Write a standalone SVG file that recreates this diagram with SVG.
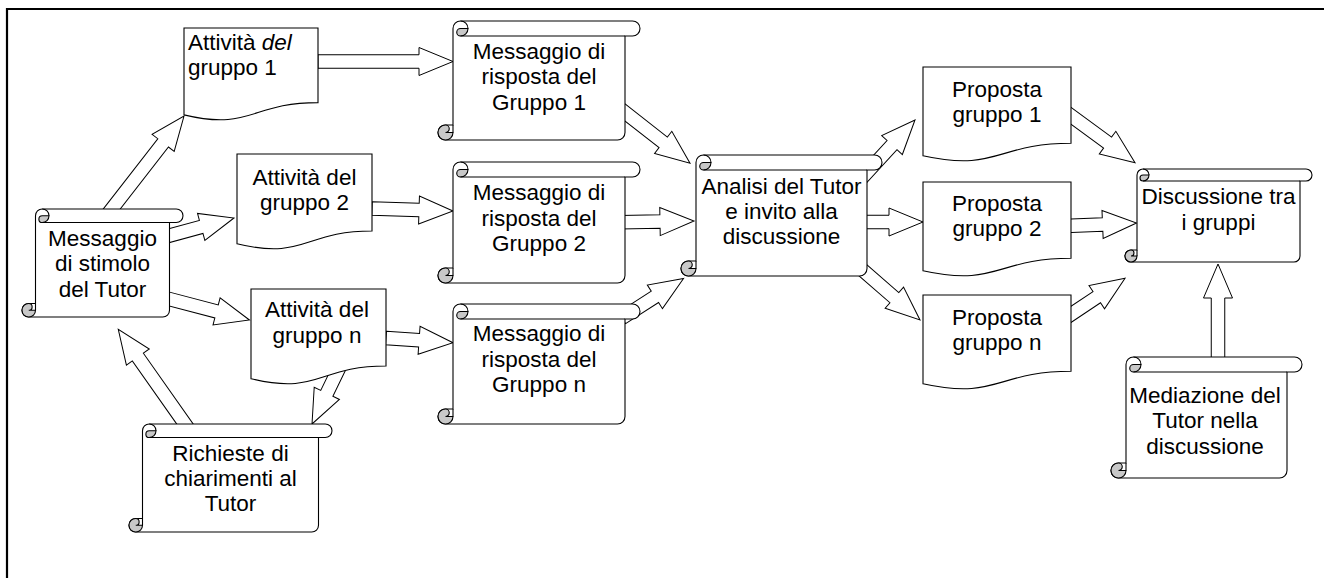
<svg xmlns="http://www.w3.org/2000/svg" width="1324" height="578" viewBox="0 0 1324 578">
<style>
.frame{fill:none;stroke:#000;stroke-width:2.2}
.ar{fill:#fff;stroke:#000;stroke-width:1}
.body{fill:#fff;stroke:#000;stroke-width:1.1}
.curl{fill:#c8c8c8;stroke:#000;stroke-width:1.1}
.ln{fill:none;stroke:#000;stroke-width:1.1}
text{font-family:"Liberation Sans",Arial,sans-serif;font-size:22.5px;fill:#000}
.c{text-anchor:middle}
</style>
<rect width="1324" height="578" fill="#fff"/>
<path class="frame" d="M7,580 V9 H1326"/>
<g id="connectors">
<polygon class="ar" transform="translate(318,61.5)" points="0,-6.75 101,-6.75 101,-14 135,0 101,14 101,6.75 0,6.75"/>
<polygon class="ar" transform="translate(372,208.5) rotate(1.77)" points="0,-6.75 47.04,-6.75 47.04,-14 81.04,0 47.04,14 47.04,6.75 0,6.75"/>
<polygon class="ar" transform="translate(386,338) rotate(4.01)" points="0,-6.75 33.16,-6.75 33.16,-14 67.16,0 33.16,14 33.16,6.75 0,6.75"/>
<polygon class="ar" transform="translate(104,219) rotate(-52.16)" points="0,-6.75 96.4,-6.75 96.4,-14 130.4,0 96.4,14 96.4,6.75 0,6.75"/>
<polygon class="ar" transform="translate(165,236.8) rotate(-15.24)" points="0,-6.75 37.5,-6.75 37.5,-14 71.5,0 37.5,14 37.5,6.75 0,6.75"/>
<polygon class="ar" transform="translate(165,297.9) rotate(14.66)" points="0,-6.75 53.3,-6.75 53.3,-14 87.3,0 53.3,14 53.3,6.75 0,6.75"/>
<polygon class="ar" transform="translate(189.2,430) rotate(-125.15)" points="0,-6.75 89.2,-6.75 89.2,-14 123.2,0 89.2,14 89.2,6.75 0,6.75"/>
<polygon class="ar" transform="translate(341,364) rotate(115.8)" points="0,-6.75 32.6,-6.75 32.6,-14 66.6,0 32.6,14 32.6,6.75 0,6.75"/>
<polygon class="ar" transform="translate(619,107.8) rotate(38)" points="0,-6.75 56.1,-6.75 56.1,-14 90.1,0 56.1,14 56.1,6.75 0,6.75"/>
<polygon class="ar" transform="translate(620,222.3) rotate(-1)" points="0,-6.75 40,-6.75 40,-14 74,0 40,14 40,6.75 0,6.75"/>
<polygon class="ar" transform="translate(622,318) rotate(-32.7)" points="0,-6.75 39.1,-6.75 39.1,-14 73.1,0 39.1,14 39.1,6.75 0,6.75"/>
<polygon class="ar" transform="translate(860,180) rotate(-47.5)" points="0,-6.75 47.4,-6.75 47.4,-14 81.4,0 47.4,14 47.4,6.75 0,6.75"/>
<polygon class="ar" transform="translate(860,222)" points="0,-6.75 29,-6.75 29,-14 63,0 29,14 29,6.75 0,6.75"/>
<polygon class="ar" transform="translate(858,266) rotate(41.05)" points="0,-6.75 48.2,-6.75 48.2,-14 82.2,0 48.2,14 48.2,6.75 0,6.75"/>
<polygon class="ar" transform="translate(1065,111.4) rotate(36.23)" points="0,-6.75 52.8,-6.75 52.8,-14 86.8,0 52.8,14 52.8,6.75 0,6.75"/>
<polygon class="ar" transform="translate(1065,226) rotate(-2.4)" points="0,-6.75 37.6,-6.75 37.6,-14 71.6,0 37.6,14 37.6,6.75 0,6.75"/>
<polygon class="ar" transform="translate(1065,318.4) rotate(-33.75)" points="0,-6.75 38.2,-6.75 38.2,-14 72.2,0 38.2,14 38.2,6.75 0,6.75"/>
<polygon class="ar" transform="translate(1218,362) rotate(-90)" points="0,-6.75 64,-6.75 64,-14.5 98,0 64,14.5 64,6.75 0,6.75"/>
</g>

<g id="attivita1">
<path class="body" d="M184,28 H318 V102.6 C251,102.6 251,131 184,114.9 Z"/>
<text x="188" y="50">Attività <tspan font-style="italic">del</tspan></text>
<text x="188" y="75">gruppo 1</text>
</g>
<g id="attivita2">
<path class="body" d="M237,154 H372 V231 C304.5,231 304.5,260.3 237,243.7 Z"/>
<text class="c" x="304.5" y="185">Attività del</text>
<text class="c" x="304.5" y="210">gruppo 2</text>
</g>
<g id="attivitan">
<path class="body" d="M251,289 H386 V366 C318.5,366 318.5,395.3 251,378.7 Z"/>
<text class="c" x="317" y="317">Attività del</text>
<text class="c" x="317" y="342.5">gruppo n</text>
</g>

<g id="stimolo" transform="translate(22,209)">
<path class="body" d="M13.5,94.5 L13.5,6.75 A6.75 6.75 0 0 1 20.25,0 L154.25,0 A6.75 6.75 0 0 1 154.25,13.5 L147.5,13.5 L147.5,101.25 A6.75 6.75 0 0 1 140.75,108 L6.75,108 A6.75 6.75 0 0 1 6.75,94.5 Z"/>
<path class="curl" d="M27,6.75 A6.75 6.75 0 0 1 20.25,13.5 A3.375 3.375 0 0 1 20.25,6.75 Z"/>
<path class="curl" d="M6.75,94.5 A6.75 6.75 0 0 0 6.75,108 A6.75 6.75 0 0 0 13.5,101.25 L6.75,101.25 A3.375 3.375 0 0 0 6.75,94.5 Z"/>
<path class="ln" d="M20.25,0 A6.75 6.75 0 0 1 27,6.75 M147.5,13.5 L20.25,13.5 M13.5,101.25 L13.5,94.5"/>
<text class="c" x="80.5" y="36.5">Messaggio</text>
<text class="c" x="80.5" y="62">di stimolo</text>
<text class="c" x="80.5" y="87.5">del Tutor</text>
</g>

<g id="risposta1" transform="translate(438,21)">
<path class="body" d="M15,104 L15,7.5 A7.5 7.5 0 0 1 22.5,0 L194.5,0 A7.5 7.5 0 0 1 194.5,15 L187,15 L187,111.5 A7.5 7.5 0 0 1 179.5,119 L7.5,119 A7.5 7.5 0 0 1 7.5,104 Z"/>
<path class="curl" d="M30,7.5 A7.5 7.5 0 0 1 22.5,15 A3.75 3.75 0 0 1 22.5,7.5 Z"/>
<path class="curl" d="M7.5,104 A7.5 7.5 0 0 0 7.5,119 A7.5 7.5 0 0 0 15,111.5 L7.5,111.5 A3.75 3.75 0 0 0 7.5,104 Z"/>
<path class="ln" d="M22.5,0 A7.5 7.5 0 0 1 30,7.5 M187,15 L22.5,15 M15,111.5 L15,104"/>
<text class="c" x="101" y="37.5">Messaggio di</text>
<text class="c" x="101" y="63">risposta del</text>
<text class="c" x="101" y="88.5">Gruppo 1</text>
</g>

<g id="risposta2" transform="translate(438,162)">
<path class="body" d="M15,106 L15,7.5 A7.5 7.5 0 0 1 22.5,0 L194.5,0 A7.5 7.5 0 0 1 194.5,15 L187,15 L187,113.5 A7.5 7.5 0 0 1 179.5,121 L7.5,121 A7.5 7.5 0 0 1 7.5,106 Z"/>
<path class="curl" d="M30,7.5 A7.5 7.5 0 0 1 22.5,15 A3.75 3.75 0 0 1 22.5,7.5 Z"/>
<path class="curl" d="M7.5,106 A7.5 7.5 0 0 0 7.5,121 A7.5 7.5 0 0 0 15,113.5 L7.5,113.5 A3.75 3.75 0 0 0 7.5,106 Z"/>
<path class="ln" d="M22.5,0 A7.5 7.5 0 0 1 30,7.5 M187,15 L22.5,15 M15,113.5 L15,106"/>
<text class="c" x="101" y="38">Messaggio di</text>
<text class="c" x="101" y="63.5">risposta del</text>
<text class="c" x="101" y="89">Gruppo 2</text>
</g>

<g id="rispostan" transform="translate(438,304)">
<path class="body" d="M15,105 L15,7.5 A7.5 7.5 0 0 1 22.5,0 L194.5,0 A7.5 7.5 0 0 1 194.5,15 L187,15 L187,112.5 A7.5 7.5 0 0 1 179.5,120 L7.5,120 A7.5 7.5 0 0 1 7.5,105 Z"/>
<path class="curl" d="M30,7.5 A7.5 7.5 0 0 1 22.5,15 A3.75 3.75 0 0 1 22.5,7.5 Z"/>
<path class="curl" d="M7.5,105 A7.5 7.5 0 0 0 7.5,120 A7.5 7.5 0 0 0 15,112.5 L7.5,112.5 A3.75 3.75 0 0 0 7.5,105 Z"/>
<path class="ln" d="M22.5,0 A7.5 7.5 0 0 1 30,7.5 M187,15 L22.5,15 M15,112.5 L15,105"/>
<text class="c" x="101" y="37">Messaggio di</text>
<text class="c" x="101" y="62.5">risposta del</text>
<text class="c" x="101" y="88">Gruppo n</text>
</g>

<g id="analisi" transform="translate(681,155)">
<path class="body" d="M15,106 L15,7.5 A7.5 7.5 0 0 1 22.5,0 L193.5,0 A7.5 7.5 0 0 1 193.5,15 L186,15 L186,113.5 A7.5 7.5 0 0 1 178.5,121 L7.5,121 A7.5 7.5 0 0 1 7.5,106 Z"/>
<path class="curl" d="M30,7.5 A7.5 7.5 0 0 1 22.5,15 A3.75 3.75 0 0 1 22.5,7.5 Z"/>
<path class="curl" d="M7.5,106 A7.5 7.5 0 0 0 7.5,121 A7.5 7.5 0 0 0 15,113.5 L7.5,113.5 A3.75 3.75 0 0 0 7.5,106 Z"/>
<path class="ln" d="M22.5,0 A7.5 7.5 0 0 1 30,7.5 M186,15 L22.5,15 M15,113.5 L15,106"/>
<text class="c" x="100.5" y="39">Analisi del Tutor</text>
<text class="c" x="100.5" y="64">e invito alla</text>
<text class="c" x="100.5" y="89">discussione</text>
</g>

<g id="richieste" transform="translate(129,424)">
<path class="body" d="M13.5,94.5 L13.5,6.75 A6.75 6.75 0 0 1 20.25,0 L196.25,0 A6.75 6.75 0 0 1 196.25,13.5 L189.5,13.5 L189.5,101.25 A6.75 6.75 0 0 1 182.75,108 L6.75,108 A6.75 6.75 0 0 1 6.75,94.5 Z"/>
<path class="curl" d="M27,6.75 A6.75 6.75 0 0 1 20.25,13.5 A3.375 3.375 0 0 1 20.25,6.75 Z"/>
<path class="curl" d="M6.75,94.5 A6.75 6.75 0 0 0 6.75,108 A6.75 6.75 0 0 0 13.5,101.25 L6.75,101.25 A3.375 3.375 0 0 0 6.75,94.5 Z"/>
<path class="ln" d="M20.25,0 A6.75 6.75 0 0 1 27,6.75 M189.5,13.5 L20.25,13.5 M13.5,101.25 L13.5,94.5"/>
<text class="c" x="101.5" y="37">Richieste di</text>
<text class="c" x="101.5" y="62">chiarimenti al</text>
<text class="c" x="101.5" y="87">Tutor</text>
</g>

<g id="proposta1">
<path class="body" d="M923,67 H1071 V143.2 C997,143.2 997,172.2 923,155.7 Z"/>
<text class="c" x="997" y="97">Proposta</text>
<text class="c" x="997" y="122">gruppo 1</text>
</g>
<g id="proposta2">
<path class="body" d="M923,182 H1071 V258.2 C997,258.2 997,287.2 923,270.7 Z"/>
<text class="c" x="997" y="211">Proposta</text>
<text class="c" x="997" y="236">gruppo 2</text>
</g>
<g id="propostan">
<path class="body" d="M923,295 H1071 V371.2 C997,371.2 997,400.2 923,383.7 Z"/>
<text class="c" x="997" y="324.5">Proposta</text>
<text class="c" x="997" y="350">gruppo n</text>
</g>

<g id="discussione" transform="translate(1125,169)">
<path class="body" d="M12,81 L12,6 A6 6 0 0 1 18,0 L181,0 A6 6 0 0 1 181,12 L175,12 L175,87 A6 6 0 0 1 169,93 L6,93 A6 6 0 0 1 6,81 Z"/>
<path class="curl" d="M24,6 A6 6 0 0 1 18,12 A3 3 0 0 1 18,6 Z"/>
<path class="curl" d="M6,81 A6 6 0 0 0 6,93 A6 6 0 0 0 12,87 L6,87 A3 3 0 0 0 6,81 Z"/>
<path class="ln" d="M18,0 A6 6 0 0 1 24,6 M175,12 L18,12 M12,87 L12,81"/>
<text class="c" x="93.5" y="35">Discussione tra</text>
<text class="c" x="93.5" y="60.5">i gruppi</text>
</g>

<g id="mediazione" transform="translate(1111,357)">
<path class="body" d="M15,106 L15,7.5 A7.5 7.5 0 0 1 22.5,0 L183.5,0 A7.5 7.5 0 0 1 183.5,15 L176,15 L176,113.5 A7.5 7.5 0 0 1 168.5,121 L7.5,121 A7.5 7.5 0 0 1 7.5,106 Z"/>
<path class="curl" d="M30,7.5 A7.5 7.5 0 0 1 22.5,15 A3.75 3.75 0 0 1 22.5,7.5 Z"/>
<path class="curl" d="M7.5,106 A7.5 7.5 0 0 0 7.5,121 A7.5 7.5 0 0 0 15,113.5 L7.5,113.5 A3.75 3.75 0 0 0 7.5,106 Z"/>
<path class="ln" d="M22.5,0 A7.5 7.5 0 0 1 30,7.5 M176,15 L22.5,15 M15,113.5 L15,106"/>
<text class="c" x="94" y="46">Mediazione del</text>
<text class="c" x="94" y="71">Tutor nella</text>
<text class="c" x="94" y="96.5">discussione</text>
</g>
</svg>
